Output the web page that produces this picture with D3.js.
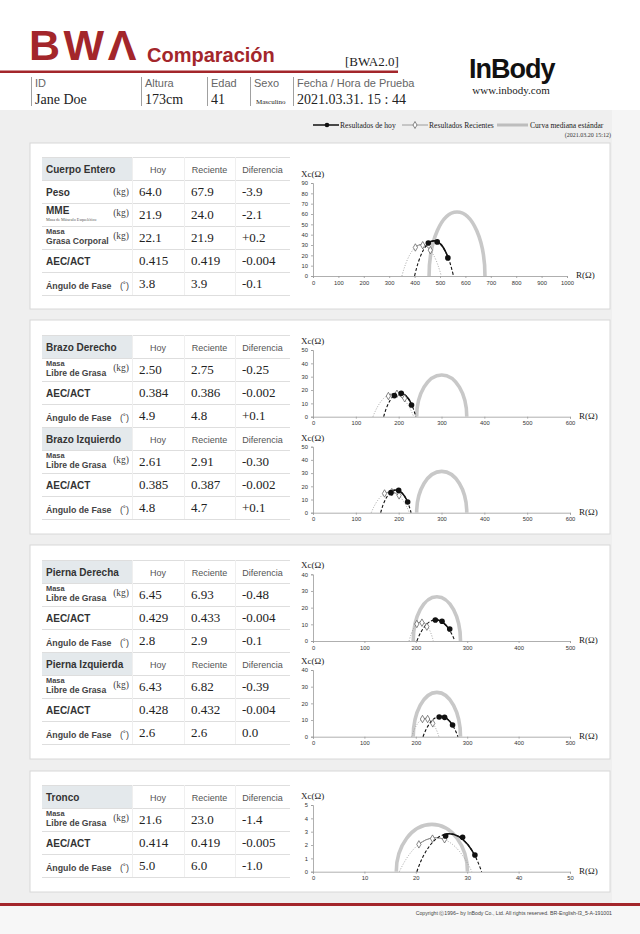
<!DOCTYPE html>
<html><head><meta charset="utf-8">
<script src="https://cdn.jsdelivr.net/npm/d3@7/dist/d3.min.js"></script>
<style>body{margin:0;background:#fff}svg{display:block}</style>
</head><body><svg id="c" width="640" height="934"></svg>
<script>
// ---------- DATA ----------
const tableTitles = ["Cuerpo Entero","Brazo Derecho","Brazo Izquierdo","Pierna Derecha","Pierna Izquierda","Tronco"];
const colHeaders = ["Hoy","Reciente","Diferencia"];
const bodyRowNames = [["Peso"],["MME"],["Masa","Grasa Corporal"],["AEC/ACT"],["Ángulo de Fase"]];
const bodyRowUnits = ["(kg)","(kg)","(kg)","","(˚)"];
const segRowNames = [["Masa","Libre de Grasa"],["AEC/ACT"],["Ángulo de Fase"]];
const segRowUnits = ["(kg)","","(˚)"];
const mmeNote = "Masa de Músculo Esquelético";
const hoyValues = [["64.0","21.9","22.1","0.415","3.8"],["2.50","0.384","4.9"],["2.61","0.385","4.8"],["6.45","0.429","2.8"],["6.43","0.428","2.6"],["21.6","0.414","5.0"]];
const recValues = [["67.9","24.0","21.9","0.419","3.9"],["2.75","0.386","4.8"],["2.91","0.387","4.7"],["6.93","0.433","2.9"],["6.82","0.432","2.6"],["23.0","0.419","6.0"]];
const difValues = [["-3.9","-2.1","+0.2","-0.004","-0.1"],["-0.25","-0.002","+0.1"],["-0.30","-0.002","+0.1"],["-0.48","-0.004","-0.1"],["-0.39","-0.004","0.0"],["-1.4","-0.005","-1.0"]];

// Cole plots: R (x) vs Xc (y)
const xMax = [1000,600,600,500,500,50];
const xStep = [100,100,100,100,100,10];
const yMax = [90,50,50,40,40,5];
const yStep = [10,10,10,10,10,1];
const todayPts = [
  [[454,32],[489,33],[531,17.5]],
  [[190,15.8],[206,17.5],[230,8.8]],
  [[182,15.2],[200,16.9],[221,8.1]],
  [[238,12.6],[251,11.8],[266,7.2]],
  [[245.5,11.8],[256,11.6],[271.5,7]],
  [[25.8,2.68],[29.1,2.58],[31.5,1.25]]
];
const recentPts = [
  [[403,27.6],[432,29.8],[462,25]],
  [[176,15.5],[196,17.2],[214,13.8]],
  [[167,14.6],[184,15.6],[201,13.1]],
  [[202,10.2],[212,11],[221.5,8.6]],
  [[213,10.6],[223,10.6],[233,8]],
  [[20.6,2.05],[23.25,2.48],[25.6,2.43]]
];
// arcs: [start R, end R, peak Xc]
const todayArcs = [[400,553,34],[165,240,17.8],[158,229,17.2],[202,276,12.8],[214,282,12.3],[20.2,32.8,2.85]];
const recentArcs = [[350,505,30.5],[140,235,17.3],[136,225,15.8],[187,234,11.4],[192,245,11],[16.8,30.9,2.55]];
const standardArcs = [[457,677,62],[242,359,31.3],[242,359,31.3],[195,287,26.6],[195,287,26.6],[16.2,30.05,3.55]];

// ---------- LAYOUT ----------
const svg = d3.select("#c");
const RED = "#a3262b";
const SANS = "'Liberation Sans', Arial, sans-serif";
const SERIF = "'Liberation Serif', 'Times New Roman', serif";

// backgrounds
svg.append("rect").attr("x",0).attr("y",110).attr("width",640).attr("height",794).attr("fill","#f5f5f5");
svg.append("rect").attr("x",0).attr("y",110).attr("width",612).attr("height",794).attr("fill","#efefef");

// header
svg.append("text").attr("x",29).attr("y",60).attr("font-family",SANS).attr("font-weight",700)
  .attr("font-size",43).attr("letter-spacing",3.5).attr("fill",RED).text("BWΛ");
svg.append("text").attr("x",147).attr("y",62).attr("font-family",SANS).attr("font-weight",700)
  .attr("font-size",20).attr("fill",RED).text("Comparación");
svg.append("text").attr("x",345).attr("y",66).attr("font-family",SERIF)
  .attr("font-size",13).attr("fill","#222").text("[BWA2.0]");
svg.append("rect").attr("x",0).attr("y",70.5).attr("width",398).attr("height",2.5).attr("fill",RED);
svg.append("text").attr("x",469).attr("y",78).attr("font-family",SANS).attr("font-weight",700)
  .attr("font-size",27).attr("letter-spacing",-1).attr("fill","#111").text("InBody");
svg.append("text").attr("x",511).attr("y",94).attr("text-anchor","middle").attr("font-family",SERIF)
  .attr("font-size",11).attr("fill","#222").text("www.inbody.com");

const infoLabels = ["ID","Altura","Edad","Sexo","Fecha / Hora de Prueba"];
const infoValues = ["Jane Doe","173cm","41","Masculino","2021.03.31. 15 : 44"];
const infoX = [31,141,207,250,293];
infoX.forEach((x,i)=>{
  svg.append("line").attr("x1",x+0.5).attr("x2",x+0.5).attr("y1",77).attr("y2",106).attr("stroke","#888").attr("stroke-width",0.8);
  svg.append("text").attr("x",x+4).attr("y",87).attr("font-family",SANS).attr("font-size",11)
    .attr("fill","#666").text(infoLabels[i]);
  svg.append("text").attr("x",x+ (i===3?6:4)).attr("y",104).attr("font-family",SERIF)
    .attr("font-size", i===3 ? 7 : 14).attr("fill","#222").text(infoValues[i]);
});

// legend
const lg = svg.append("g");
lg.append("line").attr("x1",313).attr("x2",339).attr("y1",125).attr("y2",125).attr("stroke","#111").attr("stroke-width",1.5);
lg.append("circle").attr("cx",327).attr("cy",125).attr("r",2.3).attr("fill","#111");
lg.append("text").attr("x",340).attr("y",128).attr("font-family",SERIF).attr("font-size",7.6).attr("fill","#222").text("Resultados de hoy");
lg.append("line").attr("x1",402).attr("x2",428).attr("y1",125).attr("y2",125).attr("stroke","#888").attr("stroke-width",0.8);
lg.append("path").attr("d",d3.symbol(d3.symbolDiamond,14)()).attr("transform","translate(415,125)")
  .attr("fill","#fff").attr("stroke","#555").attr("stroke-width",0.7);
lg.append("text").attr("x",429).attr("y",128).attr("font-family",SERIF).attr("font-size",7.6).attr("fill","#222").text("Resultados Recientes");
lg.append("line").attr("x1",497).attr("x2",528).attr("y1",125).attr("y2",125).attr("stroke","#bdbdbd").attr("stroke-width",3);
lg.append("text").attr("x",530).attr("y",128).attr("font-family",SERIF).attr("font-size",7.6).attr("fill","#222").text("Curva mediana estándar");
lg.append("text").attr("x",611).attr("y",137).attr("text-anchor","end").attr("font-family",SERIF).attr("font-size",6).attr("fill","#333").text("(2021.03.20 15:12)");

// panels
const panels = [[143,309],[320,534],[545,759],[771,892]];
panels.forEach(([t,b])=>{
  svg.append("rect").attr("x",30).attr("y",t).attr("width",580).attr("height",b-t)
    .attr("fill","#fff").attr("stroke","#d8d8d8").attr("stroke-width",1);
});

// tables
const tableTop = [157,335,427,560,652,785];
const RH = 23;
const colX = [42,132,184,235,290];

function drawTable(i){
  const g = svg.append("g");
  const top = tableTop[i];
  const names = i===0 ? bodyRowNames : segRowNames;
  const units = i===0 ? bodyRowUnits : segRowUnits;
  const nRows = names.length;
  const bottom = top + RH*(nRows+1);
  g.append("rect").attr("x",colX[0]).attr("y",top).attr("width",colX[1]-colX[0]).attr("height",RH).attr("fill","#e4e9ec");
  for(let r=0;r<=nRows+1;r++){
    g.append("line").attr("x1",colX[0]).attr("x2",colX[4]).attr("y1",top+r*RH+0.5).attr("y2",top+r*RH+0.5)
      .attr("stroke","#dedede").attr("stroke-width",1);
  }
  for(let c=1;c<4;c++){
    g.append("line").attr("x1",colX[c]+0.5).attr("x2",colX[c]+0.5).attr("y1",top).attr("y2",bottom)
      .attr("stroke","#efefef").attr("stroke-width",1);
  }
  g.append("text").attr("x",46).attr("y",top+16).attr("font-family",SANS).attr("font-weight",700)
    .attr("font-size",10).attr("fill","#333").text(tableTitles[i]);
  colHeaders.forEach((h,c)=>{
    g.append("text").attr("x",(colX[c+1]+colX[c+2])/2).attr("y",top+16).attr("text-anchor","middle")
      .attr("font-family",SANS).attr("font-size",9).attr("fill","#555").text(h);
  });
  names.forEach((nm,r)=>{
    const y = top + RH*(r+1);
    if(nm.length===2){
      g.append("text").attr("x",46).attr("y",y+7.5).attr("font-family",SANS).attr("font-weight",700)
        .attr("font-size",7.4).attr("fill","#444").text(nm[0]);
      g.append("text").attr("x",46).attr("y",y+17.5).attr("font-family",SANS).attr("font-weight",700)
        .attr("font-size",8.6).attr("fill","#444").text(nm[1]);
    } else if(nm[0]==="MME"){
      g.append("text").attr("x",46).attr("y",y+11).attr("font-family",SANS).attr("font-weight",700)
        .attr("font-size",10).attr("fill","#333").text(nm[0]);
      g.append("text").attr("x",46).attr("y",y+18).attr("font-family",SERIF)
        .attr("font-size",4.2).attr("fill","#555").text(mmeNote);
    } else {
      const small = nm[0].startsWith("Á");
      g.append("text").attr("x",46).attr("y",y+(small?17:16)).attr("font-family",SANS).attr("font-weight",700)
        .attr("font-size",small?8.8:10).attr("fill",small?"#444":"#333").text(nm[0]);
    }
    if(units[r]){
      const isDeg = units[r]==="(˚)";
      g.append("text").attr("x",129).attr("y",y+(isDeg?17:(nm[0]==="Peso"?15:13)))
        .attr("text-anchor","end").attr("font-family",isDeg?SANS:SERIF)
        .attr("font-size",isDeg?9:9.5).attr("fill","#444").text(units[r]);
    }
    [hoyValues,recValues,difValues].forEach((arr,c)=>{
      g.append("text").attr("x",colX[c+1]+7).attr("y",y+15.5).attr("font-family",SERIF)
        .attr("font-size",13).attr("fill","#222").text(arr[i][r]);
    });
  });
}
tableTitles.forEach((t,i)=>drawTable(i));

// charts
const chartRight = [567,570,570,570,570,570];
const chartBase = [276,416.7,512.7,641,736.7,871.7];
const chartTop = [183,350,446.7,574.3,670,805];
const CX = 313;

function arcD(xs, ys, a, circle){
  const [r0,r1,h] = a;
  const c = (r1-r0)/2;
  const kx = xs(1)-xs(0), ky = ys(0)-ys(1);
  let rx, ry, large = 0;
  if(!circle){ rx = c*kx; ry = h*ky; }
  else { const r = (c*c+h*h)/(2*h); rx = r*kx; ry = r*ky; large = h>c?1:0; }
  return `M${xs(r0)},${ys(0)}A${rx},${ry} 0 ${large} 1 ${xs(r1)},${ys(0)}`;
}

function drawChart(i){
  const g = svg.append("g");
  const xs = d3.scaleLinear().domain([0,xMax[i]]).range([CX,chartRight[i]]);
  const ys = d3.scaleLinear().domain([0,yMax[i]]).range([chartBase[i],chartTop[i]]);
  const xa = g.append("g").attr("transform",`translate(0,${chartBase[i]})`)
    .call(d3.axisBottom(xs).tickValues(d3.range(0,xMax[i]+1e-9,xStep[i])).tickSize(2).tickPadding(2.5).tickFormat(d3.format("d")));
  const ya = g.append("g").attr("transform",`translate(${CX},0)`)
    .call(d3.axisLeft(ys).tickValues(d3.range(0,yMax[i]+1e-9,yStep[i])).tickSize(2).tickPadding(3).tickFormat(d3.format("d")));
  [xa,ya].forEach(a=>{
    a.select(".domain").attr("stroke","#9a9a9a").attr("stroke-width",0.8);
    a.selectAll(".tick line").attr("stroke","#9a9a9a").attr("stroke-width",0.8);
    a.selectAll(".tick text").attr("font-size",5.8).attr("font-family",SANS).attr("fill","#333");
  });
  g.append("text").attr("x",301).attr("y",chartTop[i]-6).attr("font-family",SERIF).attr("font-size",9)
    .attr("fill","#222").text("Xc(Ω)");
  g.append("text").attr("x",chartRight[i]+9).attr("y",chartBase[i]+2).attr("font-family",SERIF).attr("font-size",9)
    .attr("fill","#222").text("R(Ω)");

  g.append("path").attr("d",arcD(xs,ys,standardArcs[i],false)).attr("fill","none")
    .attr("stroke","#c8c8c8").attr("stroke-width",3.6);

  const defs = g.append("defs");
  const mkClip = (id, pts) => {
    defs.append("clipPath").attr("id",id).append("rect")
      .attr("x",xs(pts[0][0])).attr("width",xs(pts[pts.length-1][0])-xs(pts[0][0]))
      .attr("y",chartTop[i]-20).attr("height",chartBase[i]-chartTop[i]+20);
  };
  mkClip(`cr${i}`, recentPts[i]);
  mkClip(`ct${i}`, todayPts[i]);

  const rd = arcD(xs,ys,recentArcs[i],true);
  g.append("path").attr("d",rd).attr("fill","none").attr("stroke","#9a9a9a")
    .attr("stroke-width",0.9).attr("stroke-dasharray","1,1.6");
  g.append("path").attr("d",rd).attr("fill","none").attr("stroke","#777")
    .attr("stroke-width",0.9).attr("clip-path",`url(#cr${i})`);
  const td = arcD(xs,ys,todayArcs[i],true);
  g.append("path").attr("d",td).attr("fill","none").attr("stroke","#111")
    .attr("stroke-width",1.1).attr("stroke-dasharray","3,2");
  g.append("path").attr("d",td).attr("fill","none").attr("stroke","#111")
    .attr("stroke-width",1.5).attr("clip-path",`url(#ct${i})`);

  g.selectAll(".rp").data(recentPts[i]).enter().append("path")
    .attr("d",d3.symbol(d3.symbolDiamond,16)())
    .attr("transform",d=>`translate(${xs(d[0])},${ys(d[1])})`)
    .attr("fill","#fff").attr("stroke","#555").attr("stroke-width",0.7);
  g.selectAll(".tp").data(todayPts[i]).enter().append("circle")
    .attr("cx",d=>xs(d[0])).attr("cy",d=>ys(d[1])).attr("r",2.8).attr("fill","#111");
}
xMax.forEach((m,i)=>drawChart(i));

// footer
svg.append("rect").attr("x",0).attr("y",903).attr("width",640).attr("height",3).attr("fill",RED);
svg.append("rect").attr("x",0).attr("y",906).attr("width",640).attr("height",28).attr("fill","#f7f7f7");
svg.append("text").attr("x",612).attr("y",914.5).attr("text-anchor","end").attr("font-family",SANS)
  .attr("font-size",5.2).attr("fill","#444")
  .text("Copyright ⓒ1996~ by InBody Co., Ltd. All rights reserved. BR-English-I3_5-A-191001");
</script></body></html>
